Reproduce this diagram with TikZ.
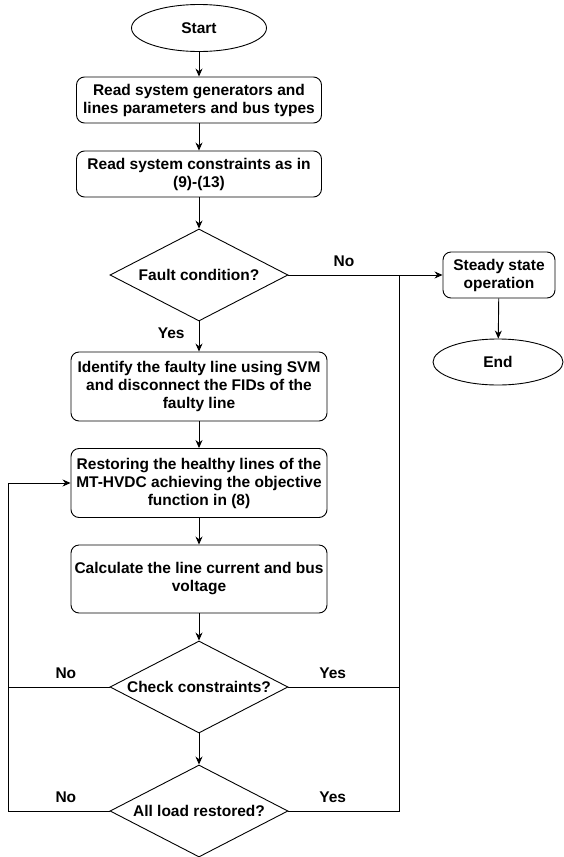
\documentclass[tikz,border=0pt]{standalone}
\usepackage{fontspec}
\setmainfont{Liberation Sans}
\usetikzlibrary{shapes.geometric,arrows.meta}
\tikzset{myline/.style={black,line width=0.9pt}}
\tikzset{myarrow/.style={myline,-{Stealth[length=8pt,width=7pt]}}}
\tikzset{mytext/.style={font=\fontsize{15.5}{18}\selectfont\bfseries,align=center}}
\tikzset{termbox/.style={draw,myline,mytext,ellipse,inner sep=0pt,minimum width=135pt,minimum height=47pt}}
\tikzset{procbox/.style={draw,myline,mytext,rectangle,rounded corners=8pt,inner sep=0pt,minimum width=256pt,minimum height=69pt}}
\tikzset{decbox/.style={draw,myline,mytext,diamond,aspect=1.93,inner sep=0pt,minimum width=178pt,minimum height=92pt}}
\tikzset{mylabel/.style={mytext,inner sep=0pt}}

\begin{document}
\begin{tikzpicture}[x=1pt,y=-1pt]
	\useasboundingbox (0,0) rectangle (564,857);

	% Main column
	\node[termbox] (start) at (199,28) {Start};
	\node[procbox,minimum width=245pt,minimum height=46pt] (readgen) at (199,100) {Read system generators and\\lines parameters and bus types};
	\node[procbox,minimum width=245pt,minimum height=46pt] (readcon) at (199,174) {Read system constraints as in\\(9)-(13)};
	\node[decbox] (fault) at (199,275) {Fault condition?};
	\node[procbox] (identify) at (199,386.5) {Identify the faulty line using SVM\\and disconnect the FIDs of the\\faulty line};
	\node[procbox] (restore) at (199,483) {Restoring the healthy lines of the\\MT-HVDC achieving the objective\\function in (8)};
	\node[procbox,minimum height=68pt] (calc) at (199,579) {Calculate the line current and bus\\voltage};
	\node[decbox] (check) at (199,687) {Check constraints?};
	\node[decbox] (allload) at (199,811) {All load restored?};

	% Right column
	\node[procbox,minimum width=112pt,minimum height=46pt] (steady) at (499,275) {Steady state\\operation};
	\node[termbox,minimum width=130pt,minimum height=46pt] (finish) at (498,362) {End};

	\coordinate (jright) at (399,275);
	\coordinate (jleft) at (8,483);

	\draw[myarrow] (start) -- (readgen);
	\draw[myarrow] (readgen) -- (readcon);
	\draw[myarrow] (readcon) -- (fault);
	\draw[myarrow] (fault) -- (identify) node[mylabel,pos=0.39,left=14pt] (yesfault) {Yes};
	\draw[myarrow] (identify) -- (restore);
	\draw[myarrow] (restore) -- (calc);
	\draw[myarrow] (calc) -- (check);
	\draw[myarrow] (check) -- (allload);
	\draw[myarrow] (fault.east) -- (steady.west) node[mylabel,pos=0.36,above=8pt] (nofault) {No};
	\draw[myarrow] (steady) -- (finish);

	% Yes branches back to the steady state line
	\draw[myline] (check.east) -- (check.east -| jright) node[mylabel,pos=0.4,above=8pt] (yescheck) {Yes};
	\draw[myline] (allload.east) -- (allload.east -| jright) node[mylabel,pos=0.4,above=8pt] (yesload) {Yes} -- (jright);

	% No branches back to restoring
	\draw[myline] (check.west) -- (check.west -| jleft) node[mylabel,pos=0.43,above=8pt] (nocheck) {No};
	\draw[myarrow] (allload.west) -- (allload.west -| jleft) node[mylabel,pos=0.43,above=8pt] (noload) {No} -- (jleft) -- (restore.west);
\end{tikzpicture}
\end{document}
